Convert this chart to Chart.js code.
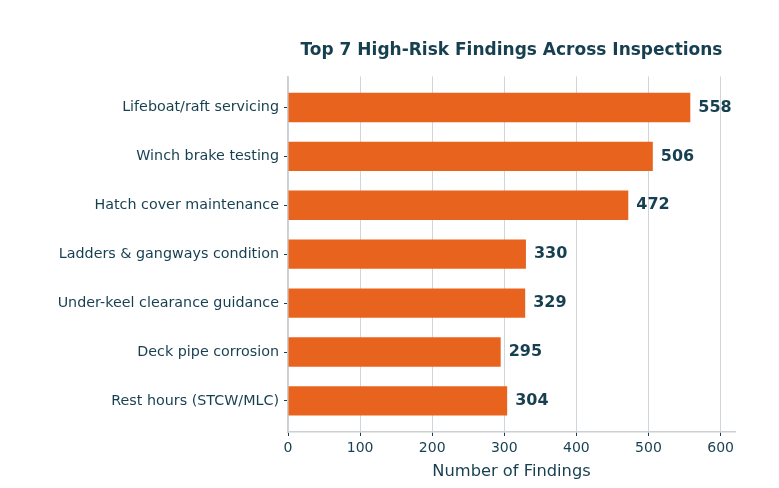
<!DOCTYPE html>
<html lang="en">
<head>
  <meta charset="utf-8">
  <title>Top 7 High-Risk Findings Across Inspections</title>
  <style>
    html, body { margin: 0; padding: 0; background: #fff; }
    #wrap { width: 779px; height: 488px; }
  </style>
</head>
<body>
  <div id="wrap"><canvas id="findingsChart" width="779" height="488"></canvas></div>

  <script src="https://cdn.jsdelivr.net/npm/chart.js"></script>
  <script>
    // data
    const categories = [
      'Lifeboat/raft servicing',
      'Winch brake testing',
      'Hatch cover maintenance',
      'Ladders & gangways condition',
      'Under-keel clearance guidance',
      'Deck pipe corrosion',
      'Rest hours (STCW/MLC)'
    ];
    const findings = [558, 506, 472, 330, 329, 295, 304];
    const xTicks = [0, 100, 200, 300, 400, 500, 600];

    const textColor = '#163f50';
    const barColor = '#e8641e';
    const gridColor = '#cfd6db';
    const font = 'DejaVu Sans';

    // labels at the end of each bar
    const valueLabels = {
      id: 'valueLabels',
      afterDatasetsDraw(chart) {
        const ctx = chart.ctx;
        const meta = chart.getDatasetMeta(0);
        ctx.save();
        ctx.font = 'bold 16px "' + font + '"';
        ctx.fillStyle = textColor;
        ctx.textAlign = 'left';
        ctx.textBaseline = 'middle';
        meta.data.forEach((bar, i) => {
          ctx.fillText(findings[i], bar.x + 8, bar.y);
        });
        ctx.restore();
      }
    };

    const ctx = document.getElementById('findingsChart').getContext('2d');
    new Chart(ctx, {
      type: 'bar',
      data: {
        datasets: [{
          data: findings.map((v, i) => ({ x: v, y: i })),
          backgroundColor: barColor,
          borderWidth: 0,
          barPercentage: 0.6,
          categoryPercentage: 1
        }]
      },
      options: {
        indexAxis: 'y',
        responsive: false,
        animation: false,
        layout: { padding: { left: 0, right: 44, top: 0, bottom: 0 } },
        plugins: {
          legend: { display: false },
          tooltip: { enabled: false },
          title: {
            display: true,
            text: 'Top 7 High-Risk Findings Across Inspections',
            fullSize: false,
            color: textColor,
            font: { family: font, size: 17, weight: 'bold' },
            padding: { top: 40, bottom: 16 }
          }
        },
        scales: {
          x: {
            type: 'linear',
            min: 0,
            max: 620,
            afterBuildTicks: axis => { axis.ticks = xTicks.map(v => ({ value: v })); },
            afterFit: scale => { scale.height = 56; },
            grid: { color: gridColor, tickColor: textColor, tickLength: 4, lineWidth: 1 },
            border: { color: '#c9d1d6', width: 1.5 },
            ticks: { color: textColor, font: { family: font, size: 14 }, padding: 4 },
            title: {
              display: true,
              text: 'Number of Findings',
              color: textColor,
              font: { family: font, size: 16.3 },
              padding: { top: 2, bottom: 6 }
            }
          },
          y: {
            type: 'linear',
            reverse: true,
            offset: false,
            min: -0.635,
            max: 6.635,
            afterBuildTicks: axis => { axis.ticks = categories.map((c, i) => ({ value: i })); },
            afterFit: scale => { scale.width = 288; },
            grid: { offset: false, drawOnChartArea: false, drawTicks: true, tickColor: textColor, tickLength: 4 },
            border: { color: '#c9d1d6', width: 1.5 },
            ticks: {
              color: textColor,
              font: { family: font, size: 14.3 },
              padding: 5,
              callback: v => categories[v]
            }
          }
        }
      },
      plugins: [valueLabels]
    });
  </script>
</body>
</html>
